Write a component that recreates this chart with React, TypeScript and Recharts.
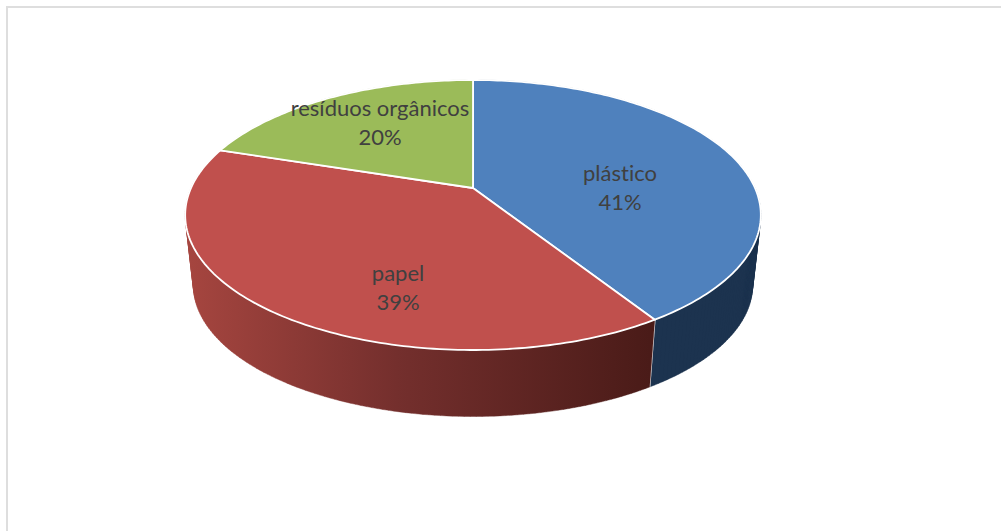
import React from "react";
import { PieChart, Pie, Cell } from "recharts";

const categories = ["plástico", "papel", "resíduos orgânicos"];
const shares = [41, 39, 20];
const topColors = ["#4f81bd", "#c0504d", "#9bbb59"];
const wallFills = ["#1c334f", "url(#paperWall)", "#5e7235"];

const rows = categories.map((name, i) => ({ name, value: shares[i] }));

// Label centres relative to the disc hub, one per slice.
const labelOffsets = [
  { dx: 147, dy: 0 },
  { dx: -75, dy: 100 },
  { dx: -93, dy: -65 },
];

// Projection of the tilted disc: near edge larger than far edge.
const TILT = 0.2;
const TOP = { ax: 282, by: 129.6, dy: 0 };
const BASE = { ax: 274, by: 126, dy: 71 };

type Face = { ax: number; by: number; dy: number };

function project(cx: number, cy: number, face: Face, mathDeg: number) {
  const t = ((90 - mathDeg) * Math.PI) / 180;
  const u = Math.sin(t);
  const v = -Math.cos(t);
  const w = 1 - TILT * v;
  return [cx + (face.ax * u) / w, cy + face.dy + (face.by * v) / w];
}

function arc(cx: number, cy: number, face: Face, from: number, to: number) {
  const steps = Math.max(2, Math.ceil(Math.abs(to - from)));
  const pts: number[][] = [];
  for (let i = 0; i <= steps; i++) {
    pts.push(project(cx, cy, face, from + ((to - from) * i) / steps));
  }
  return pts;
}

const toPath = (pts: number[][]) =>
  pts.map((p, i) => `${i ? "L" : "M"}${p[0].toFixed(2)} ${p[1].toFixed(2)}`).join(" ") + " Z";

function signedArea(pts: number[][]) {
  let a = 0;
  pts.forEach((p, i) => {
    const q = pts[(i + 1) % pts.length];
    a += p[0] * q[1] - q[0] * p[1];
  });
  return a;
}

function TopSlice(props: any) {
  const { cx, cy, startAngle, endAngle, fill } = props;
  const d = toPath([[cx, cy], ...arc(cx, cy, TOP, startAngle, endAngle)]);
  return <path d={d} fill={fill} stroke="#ffffff" strokeWidth={1.8} strokeLinejoin="round" />;
}

// The rim is a run of small quads between the two faces, all wound the same way,
// so the straight silhouette at the disc's left and right sides is filled too.
function WallSlice(props: any) {
  const { cx, cy, startAngle, endAngle, fill } = props;
  const upper = arc(cx, cy, TOP, startAngle, endAngle);
  const lower = arc(cx, cy, BASE, startAngle, endAngle);
  const quads = upper.slice(1).map((p, i) => {
    const quad = [upper[i], p, lower[i + 1], lower[i]];
    return toPath(signedArea(quad) < 0 ? quad.reverse() : quad);
  });
  const endTop = project(cx, cy, TOP, endAngle);
  const endBase = project(cx, cy, BASE, endAngle);
  const seamFaces = Math.sin((endAngle * Math.PI) / 180) < 0;
  return (
    <g>
      <path d={quads.join(" ")} fill={fill} stroke={fill} strokeWidth={0.4} />
      {seamFaces && (
        <line x1={endTop[0]} y1={endTop[1]} x2={endBase[0]} y2={endBase[1]} stroke="#ffffff" strokeWidth={1.5} />
      )}
    </g>
  );
}

function SliceLabel(props: any) {
  const { cx, cy, index, name, value } = props;
  const off = labelOffsets[index];
  const x = cx + off.dx;
  const y = cy + off.dy;
  return (
    <text
      x={x}
      textAnchor="middle"
      fontFamily="Lato, sans-serif"
      fontSize={22}
      fill="#404040"
      style={{ fontVariantLigatures: "none" }}
    >
      <tspan x={x} y={y - 7}>{name}</tspan>
      <tspan x={x} y={y + 22}>{`${value}%`}</tspan>
    </text>
  );
}

export default function App() {
  const hub = { cx: 473, cy: 188 };
  return (
    <div style={{ position: "absolute", left: 0, top: 0, width: 1001, height: 531, background: "#fff", overflow: "hidden" }}>
      <div
        style={{
          position: "absolute",
          left: 6,
          top: 6,
          width: 1001,
          height: 531,
          borderLeft: "2px solid #dedede",
          borderTop: "2px solid #dedede",
        }}
      />
      <PieChart
        width={1001}
        height={531}
        margin={{ top: 0, right: 0, bottom: 0, left: 0 }}
        style={{ position: "absolute", left: 0, top: 0 }}
      >
        <defs>
          <linearGradient id="paperWall" gradientUnits="userSpaceOnUse" x1={190} y1={0} x2={650} y2={0}>
            <stop offset="0" stopColor="#a5453f" />
            <stop offset="0.45" stopColor="#742f2d" />
            <stop offset="1" stopColor="#4a1b18" />
          </linearGradient>
        </defs>
        <Pie
          data={rows}
          dataKey="value"
          nameKey="name"
          cx={hub.cx}
          cy={hub.cy}
          outerRadius={200}
          startAngle={90}
          endAngle={-270}
          isAnimationActive={false}
          shape={WallSlice}
          label={false}
          labelLine={false}
        >
          {rows.map((r, i) => (
            <Cell key={r.name} fill={wallFills[i]} />
          ))}
        </Pie>
        <Pie
          data={rows}
          dataKey="value"
          nameKey="name"
          cx={hub.cx}
          cy={hub.cy}
          outerRadius={200}
          startAngle={90}
          endAngle={-270}
          isAnimationActive={false}
          shape={TopSlice}
          label={SliceLabel}
          labelLine={false}
        >
          {rows.map((r, i) => (
            <Cell key={r.name} fill={topColors[i]} />
          ))}
        </Pie>
      </PieChart>
    </div>
  );
}
